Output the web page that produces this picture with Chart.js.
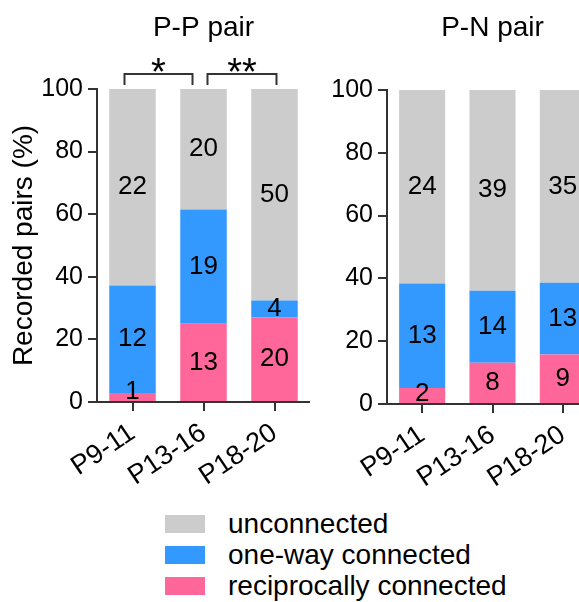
<!DOCTYPE html>
<html>
<head>
<meta charset="utf-8">
<script src="https://cdn.jsdelivr.net/npm/chart.js@4.4.1/dist/chart.umd.min.js"></script>
<style>
  html, body { margin: 0; padding: 0; background: #fff; overflow: hidden; }
  #wrap { position: relative; width: 579px; height: 602px; overflow: hidden; font-family: "Liberation Sans", Arial, sans-serif; }
  #pp-box { position: absolute; left: 0; top: 0; }
  #pn-box { position: absolute; left: 310px; top: 0; }
  .legend { position: absolute; left: 165px; top: 508px; }
  .legend-row { display: flex; align-items: center; height: 31px; font-size: 28px; color: #000; }
  .legend-swatch { width: 40px; height: 18px; margin-right: 23px; }
</style>
</head>
<body>
<div id="wrap">
  <div id="pp-box"><canvas id="pp-chart" width="310" height="500"></canvas></div>
  <div id="pn-box"><canvas id="pn-chart" width="288" height="500"></canvas></div>
  <div class="legend" id="legend"></div>
</div>
<script>
// Categorie (età)
const categories = ['P9-11', 'P13-16', 'P18-20'];

// P-P pair: numero di coppie per gruppo
const ppReciprocalCounts = [1, 13, 20];
const ppOneWayCounts = [12, 19, 4];
const ppUnconnectedCounts = [22, 20, 50];
// P-P pair: percentuali
const ppReciprocalPct = [2.9, 25.0, 27.0];
const ppOneWayPct = [34.3, 36.5, 5.4];
const ppUnconnectedPct = [62.8, 38.5, 67.6];

// P-N pair: numero di coppie per gruppo
const pnReciprocalCounts = [2, 8, 9];
const pnOneWayCounts = [13, 14, 13];
const pnUnconnectedCounts = [24, 39, 35];
// P-N pair: percentuali
const pnReciprocalPct = [5.1, 13.1, 15.8];
const pnOneWayPct = [33.3, 23.0, 22.8];
const pnUnconnectedPct = [61.6, 63.9, 61.4];

// Asse Y
const yTicks = [0, 20, 40, 60, 80, 100];

// Parentesi di significatività (solo P-P)
const ppBrackets = [
    { from: 0, to: 1, label: '*' },
    { from: 1, to: 2, label: '**' }
];
const bracketInsets = [[-8, -11], [4, 2]];

const seriesNames = ['reciprocally connected', 'one-way connected', 'unconnected'];
const seriesColors = ['#ff6699', '#3399ff', '#cccccc'];

const FONT = '"Liberation Sans", Arial, sans-serif';
Chart.defaults.font.family = FONT;
Chart.defaults.color = '#000';

/**
 * Etichette con i conteggi al centro di ogni segmento
 */
const countLabels = {
    id: 'countLabels',
    afterDatasetsDraw(chart) {
        const ctx = chart.ctx;
        const bottom = chart.chartArea.bottom;
        ctx.save();
        ctx.font = '26px ' + FONT;
        ctx.fillStyle = '#000';
        ctx.textAlign = 'center';
        ctx.textBaseline = 'middle';
        chart.data.datasets.forEach((ds, i) => {
            const meta = chart.getDatasetMeta(i);
            meta.data.forEach((bar, j) => {
                const mid = (bar.y + bar.base) / 2;
                // il segmento troppo basso: etichetta sollevata sopra l'asse
                const y = Math.min(mid, bottom - 10);
                ctx.fillText(String(ds.counts[j]), bar.x, y);
            });
        });
        ctx.restore();
    }
};

/**
 * Parentesi con asterischi sopra le barre
 */
const sigBrackets = {
    id: 'sigBrackets',
    afterDraw(chart, args, opts) {
        if (!opts.items) return;
        const ctx = chart.ctx;
        const xs = chart.scales.x;
        const top = chart.scales.y.getPixelForValue(100);
        const lineY = top - 15;
        const legY = top - 4;
        ctx.save();
        ctx.strokeStyle = '#333';
        ctx.lineWidth = 2;
        ctx.fillStyle = '#000';
        ctx.font = '38px ' + FONT;
        ctx.textAlign = 'center';
        ctx.textBaseline = 'alphabetic';
        opts.items.forEach((b, i) => {
            const x1 = xs.getPixelForValue(b.from) + bracketInsets[i][0];
            const x2 = xs.getPixelForValue(b.to) + bracketInsets[i][1];
            ctx.beginPath();
            ctx.moveTo(x1, legY);
            ctx.lineTo(x1, lineY);
            ctx.lineTo(x2, lineY);
            ctx.lineTo(x2, legY);
            ctx.stroke();
            ctx.fillText(b.label, (x1 + x2) / 2, lineY + 11);
        });
        ctx.restore();
    }
};

function makeDatasets(pcts, counts) {
    return pcts.map((p, i) => ({
        label: seriesNames[i],
        data: p,
        counts: counts[i],
        backgroundColor: seriesColors[i],
        borderWidth: 0,
        barPercentage: 0.655,
        categoryPercentage: 1,
        stack: 'all'
    }));
}

function makeOptions(titleText, yAxisWidth, xAxisHeight, plotTop, showYTitle, brackets) {
    return {
        responsive: false,
        animation: false,
        layout: { padding: 0 },
        plugins: {
            legend: { display: false },
            tooltip: { enabled: false },
            title: {
                display: true,
                text: titleText,
                fullSize: false,
                color: '#000',
                font: { size: 28, weight: 'normal' },
                padding: { top: 11, bottom: plotTop - 11 - 33.6 }
            },
            sigBrackets: { items: brackets }
        },
        scales: {
            x: {
                stacked: true,
                afterFit(scale) { scale.height = xAxisHeight; },
                grid: { offset: false, drawOnChartArea: false, drawTicks: true, tickLength: 9, color: '#333', lineWidth: 2 },
                border: { display: true, color: '#333', width: 2 },
                ticks: { autoSkip: false, maxRotation: 34, minRotation: 34, padding: 6, labelOffset: 0, font: { size: 27 }, color: '#000' }
            },
            y: {
                stacked: true,
                min: 0,
                max: 100,
                afterFit(scale) { scale.width = yAxisWidth; },
                afterBuildTicks(scale) { scale.ticks = yTicks.map(v => ({ value: v })); },
                grid: { drawOnChartArea: false, drawTicks: true, tickLength: 9, color: '#333', lineWidth: 2 },
                border: { display: true, color: '#333', width: 2 },
                ticks: { padding: 5, font: { size: 25 }, color: '#000' },
                title: {
                    display: showYTitle,
                    text: 'Recorded pairs (%)',
                    color: '#000',
                    font: { size: 28 },
                    padding: { top: 7, bottom: 0 }
                }
            }
        }
    };
}

new Chart(document.getElementById('pp-chart'), {
    type: 'bar',
    data: {
        labels: categories,
        datasets: makeDatasets(
            [ppReciprocalPct, ppOneWayPct, ppUnconnectedPct],
            [ppReciprocalCounts, ppOneWayCounts, ppUnconnectedCounts]
        )
    },
    options: makeOptions('P-P pair', 97, 98, 89, true, ppBrackets),
    plugins: [countLabels, sigBrackets]
});

new Chart(document.getElementById('pn-chart'), {
    type: 'bar',
    data: {
        labels: categories,
        datasets: makeDatasets(
            [pnReciprocalPct, pnOneWayPct, pnUnconnectedPct],
            [pnReciprocalCounts, pnOneWayCounts, pnUnconnectedCounts]
        )
    },
    options: makeOptions('P-N pair', 77, 96, 90, false, null),
    plugins: [countLabels, sigBrackets]
});

// Legenda HTML (ordine: unconnected in alto)
const legendEl = document.getElementById('legend');
[2, 1, 0].forEach(i => {
    const row = document.createElement('div');
    row.className = 'legend-row';
    const sw = document.createElement('span');
    sw.className = 'legend-swatch';
    sw.style.background = seriesColors[i];
    const txt = document.createElement('span');
    txt.textContent = seriesNames[i];
    row.appendChild(sw);
    row.appendChild(txt);
    legendEl.appendChild(row);
});
</script>
</body>
</html>
